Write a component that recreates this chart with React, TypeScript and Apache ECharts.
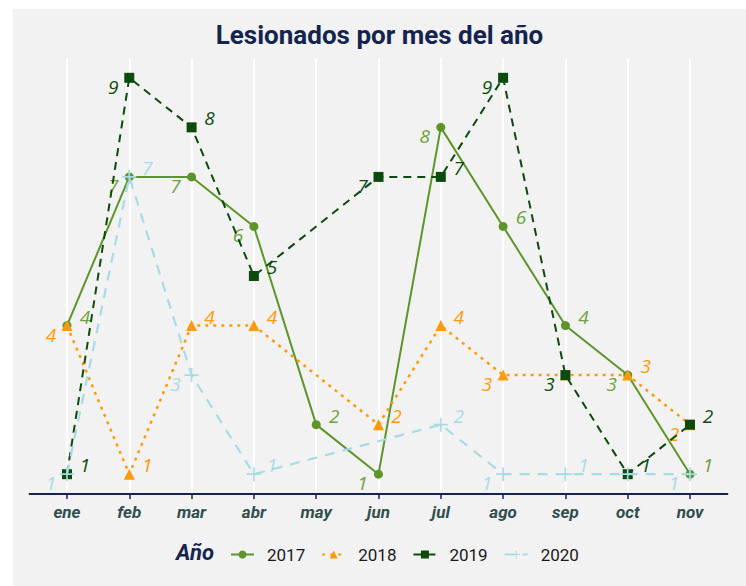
import React, { useEffect, useRef } from "react";
import * as echarts from "echarts";

const months = ["ene", "feb", "mar", "abr", "may", "jun", "jul", "ago", "sep", "oct", "nov"];
const years = ["2017", "2018", "2019", "2020"];
const v2017 = [4, 7, 7, 6, 2, 1, 8, 6, 4, 3, 1];
const v2018 = [4, 1, 4, 4, null, 2, 4, 3, 3, 3, 2];
const v2019 = [1, 9, 8, 5, null, 7, 7, 9, 3, 1, 2];
const v2020 = [1, 7, 3, 1, null, null, 2, 1, 1, 1, 1];

// label side per point: r = right/above, l = left/below, "" = hidden
const side2017 = ["r", "l", "l", "l", "r", "l", "l", "r", "r", "l", "r"];
const side2018 = ["l", "r", "r", "r", "", "r", "r", "l", "", "r", "l"];
const side2019 = ["r", "l", "r", "r", "", "l", "r", "l", "l", "r", "r"];
const side2020 = ["l", "r", "l", "r", "", "", "r", "l", "r", "", "l"];

const NAVY = "#13254f";
const PLUS = "path://M4.4,0h1.2v4.4h4.4v1.2h-4.4v4.4h-1.2v-4.4h-4.4v-1.2h4.4z";

function buildData(vals: (number | null)[], sides: string[]) {
  const out: any[] = [];
  vals.forEach((v, i) => {
    if (v === null) return;
    const s = sides[i];
    out.push({
      value: [i, v],
      label: {
        show: s !== "",
        offset: s === "r" ? [18, -9] : [-16, 9],
      },
    });
  });
  return out;
}

export default function App() {
  const ref = useRef<HTMLDivElement>(null);
  useEffect(() => {
    if (!ref.current) return;
    const chart = echarts.init(ref.current, null, { renderer: "svg" });
    const defs = [
      { vals: v2017, sides: side2017, color: "#5e952a", labelColor: "#6ea33b", line: "solid", width: 2, symbol: "circle", size: 9 },
      { vals: v2018, sides: side2018, color: "#ff9a0a", labelColor: "#ff9a0a", line: [3, 5], width: 2.5, symbol: "triangle", size: 11 },
      { vals: v2019, sides: side2019, color: "#0d4a0d", labelColor: "#0d4a0d", line: [8, 6], width: 2, symbol: "rect", size: 10 },
      { vals: v2020, sides: side2020, color: "#a8dbe6", labelColor: "#a8dbe6", line: [10, 8], width: 2.2, symbol: PLUS, size: 14 },
    ];
    const series = defs.map((d, k) => ({
      name: years[k],
      type: "line",
      data: buildData(d.vals, d.sides),
      symbol: d.symbol,
      symbolSize: d.size,
      showAllSymbol: true,
      lineStyle: { color: d.color, width: d.width, type: d.line },
      itemStyle: { color: d.color },
      label: {
        show: true,
        position: "inside",
        formatter: (p: any) => String(p.value[1]),
        color: d.labelColor,
        fontFamily: "Open Sans",
        fontStyle: "italic",
        fontSize: 19,
      },
      emphasis: { disabled: true },
      z: 2 + k,
    }));
    chart.setOption({
      animation: false,
      backgroundColor: "#f2f2f2",
      title: [
        {
          text: "Lesionados por mes del año",
          left: "center",
          top: 8,
          textStyle: { fontFamily: "Roboto", fontWeight: "bold", fontSize: 26, color: NAVY },
        },
        {
          text: "Año",
          left: 158,
          top: 527,
          textStyle: { fontFamily: "Roboto", fontWeight: "bold", fontStyle: "italic", fontSize: 22, color: NAVY },
        },
      ],
      legend: {
        data: years,
        left: 212,
        top: 532,
        itemWidth: 23,
        itemHeight: 10,
        itemGap: 16,
        textStyle: { fontFamily: "Roboto", fontSize: 17, color: "#1a1a1a", padding: [0, 0, 0, 8] },
      },
      grid: { left: 16.6, right: 18.6, top: 49, bottom: 92, containLabel: false },
      xAxis: {
        type: "value",
        min: -0.6,
        max: 10.6,
        axisLine: { show: true, lineStyle: { color: NAVY, width: 2 } },
        axisTick: { show: true, length: 5, lineStyle: { color: NAVY, width: 1.5 }, customValues: months.map((_, i) => i) },
        axisLabel: {
          customValues: months.map((_, i) => i),
          formatter: (v: number) => months[Math.round(v)] ?? "",
          fontFamily: "Roboto",
          fontWeight: "bold",
          fontStyle: "italic",
          fontSize: 17,
          color: "#2f4f4f",
          margin: 9,
        },
        splitLine: { show: true, lineStyle: { color: "#ffffff", width: 2 } },
      },
      yAxis: {
        type: "value",
        min: 0.6,
        max: 9.4,
        axisLine: { show: false },
        axisTick: { show: false },
        axisLabel: { show: false },
        splitLine: { show: false },
      },
      series,
    });
    return () => chart.dispose();
  }, []);
  return (
    <div
      ref={ref}
      style={{ position: "absolute", left: 13, top: 9, width: 733, height: 577 }}
    />
  );
}
